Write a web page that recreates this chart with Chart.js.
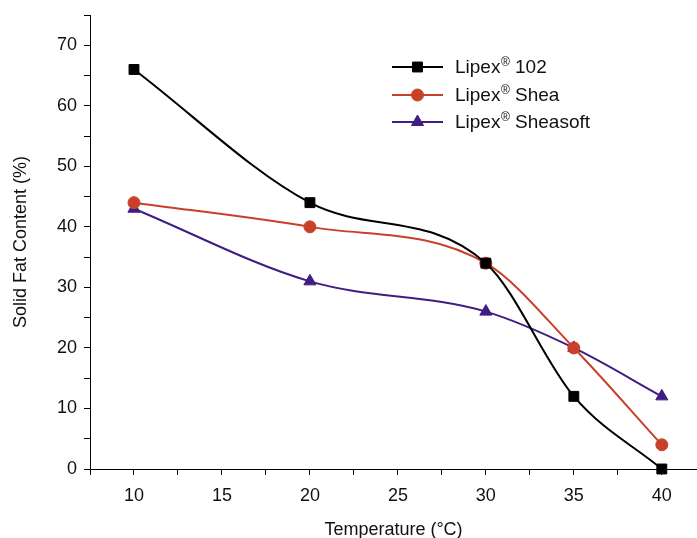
<!DOCTYPE html>
<html>
<head>
<meta charset="utf-8">
<script src="https://cdn.jsdelivr.net/npm/chart.js@4"></script>
<style>
  html, body { margin: 0; padding: 0; background: #fff; }
  #wrap { width: 697px; height: 538px; }
</style>
</head>
<body>
<div id="wrap"><canvas id="sfcChart" width="697" height="538"></canvas></div>
<script>
// temperatures (°C)
const temperatures = [10, 20, 30, 35, 40];
// solid fat content (%)
const lipex102 = [66, 44, 34, 12, 0];
const lipexShea = [44, 40, 34, 20, 4];
const lipexSheasoft = [43, 31, 26, 20, 12];
const seriesNames = ['Lipex® 102', 'Lipex® Shea', 'Lipex® Sheasoft'];

const FONT = '"Liberation Sans", Arial, sans-serif';

function toPoints(values) {
    return temperatures.map((t, i) => ({ x: t, y: values[i] }));
}

// legend drawn inside the plot, like the original
const insideLegend = {
    id: 'insideLegend',
    afterDraw(chart) {
        const ctx = chart.ctx;
        const x0 = 392, x1 = 443, textX = 455;
        const rows = [67, 95, 122];
        ctx.save();
        chart.data.datasets.forEach((ds, i) => {
            const y = rows[i];
            ctx.strokeStyle = ds.borderColor;
            ctx.lineWidth = 2;
            ctx.beginPath();
            ctx.moveTo(x0, y);
            ctx.lineTo(x1, y);
            ctx.stroke();

            ctx.fillStyle = ds.pointBackgroundColor;
            ctx.strokeStyle = ds.pointBorderColor;
            ctx.lineWidth = 1;
            Chart.helpers.drawPoint(ctx, {
                pointStyle: ds.pointStyle,
                radius: ds.pointRadius,
                borderWidth: 1
            }, (x0 + x1) / 2, y);

            // text with small raised ®
            const parts = ds.label.split('®');
            ctx.fillStyle = '#111';
            ctx.textBaseline = 'middle';
            ctx.textAlign = 'left';
            ctx.font = '19px ' + FONT;
            ctx.fillText(parts[0], textX, y + 1);
            let w = ctx.measureText(parts[0]).width;
            ctx.font = '12px ' + FONT;
            ctx.fillText('®', textX + w + 0.5, y - 4);
            w += ctx.measureText('®').width + 0.5;
            ctx.font = '19px ' + FONT;
            ctx.fillText(parts[1], textX + w, y + 1);
        });
        ctx.restore();
    }
};

new Chart(document.getElementById('sfcChart'), {
    type: 'line',
    data: {
        datasets: [
            {
                label: seriesNames[0],
                data: toPoints(lipex102),
                borderColor: '#000000',
                pointBackgroundColor: '#000000',
                pointBorderColor: '#000000',
                pointStyle: 'rect',
                pointRadius: 7
            },
            {
                label: seriesNames[1],
                data: toPoints(lipexShea),
                borderColor: '#c9402a',
                pointBackgroundColor: '#c9402a',
                pointBorderColor: '#c9402a',
                pointStyle: 'circle',
                pointRadius: 6
            },
            {
                label: seriesNames[2],
                data: toPoints(lipexSheasoft),
                borderColor: '#3f1d84',
                pointBackgroundColor: '#3f1d84',
                pointBorderColor: '#3f1d84',
                pointStyle: 'triangle',
                pointRadius: 7
            }
        ]
    },
    options: {
        responsive: false,
        animation: false,
        devicePixelRatio: 1,
        clip: false,
        elements: {
            line: { borderWidth: 2, cubicInterpolationMode: 'monotone', fill: false },
            point: { borderWidth: 1 }
        },
        layout: { autoPadding: false, padding: { top: 15, right: 0, bottom: 0, left: 0 } },
        plugins: {
            legend: { display: false },
            tooltip: { enabled: false }
        },
        scales: {
            x: {
                type: 'linear',
                min: 7.5,
                max: 42,
                afterBuildTicks(scale) {
                    scale.ticks = scale.ticks.filter(t => Math.abs(t.value / 2.5 - Math.round(t.value / 2.5)) < 1e-6);
                },
                afterFit(scale) { scale.height = 69; },
                ticks: {
                    stepSize: 2.5,
                    autoSkip: false,
                    maxRotation: 0,
                    padding: 10,
                    color: '#111',
                    font: { family: FONT, size: 18 },
                    callback: v => (v % 5 === 0 ? String(v) : '')
                },
                grid: {
                    drawOnChartArea: false,
                    drawTicks: true,
                    tickLength: 6,
                    color: '#000',
                    lineWidth: 1
                },
                border: { color: '#000', width: 1 },
                title: {
                    display: true,
                    text: 'Temperature (°C)',
                    color: '#111',
                    font: { family: FONT, size: 18 },
                    padding: { top: 10, bottom: -3 }
                }
            },
            y: {
                type: 'linear',
                min: 0,
                max: 75,
                afterFit(scale) {
                    scale.width = 90;
                    scale.paddingTop = 0;
                },
                ticks: {
                    stepSize: 5,
                    autoSkip: false,
                    padding: 7,
                    color: '#111',
                    font: { family: FONT, size: 18 },
                    callback: v => (v % 10 === 0 ? String(v) : '')
                },
                grid: {
                    drawOnChartArea: false,
                    drawTicks: true,
                    tickLength: 6,
                    color: '#000',
                    lineWidth: 1
                },
                border: { color: '#000', width: 1 },
                title: {
                    display: true,
                    text: 'Solid Fat Content (%)',
                    color: '#111',
                    font: { family: FONT, size: 18 },
                    padding: { top: 10, bottom: 0 }
                }
            }
        }
    },
    plugins: [insideLegend]
});
</script>
</body>
</html>
